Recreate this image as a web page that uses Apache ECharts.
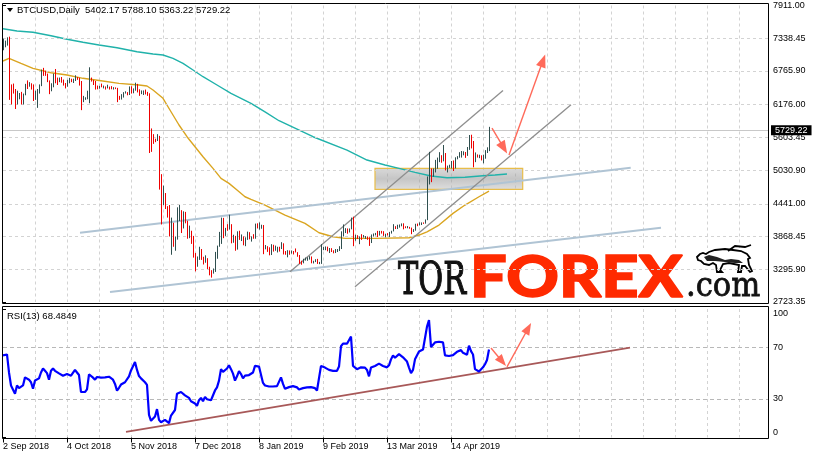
<!DOCTYPE html>
<html><head><meta charset="utf-8">
<script src="https://cdn.jsdelivr.net/npm/echarts@6/dist/echarts.min.js"></script>
<style>html,body{margin:0;padding:0;background:#fff}#c{width:814px;height:460px}</style>
</head><body><div id="c"></div><script>
// ---- daily bars [open, high, low, close], one array per month ----
const sep2018 = [
[7140,7330,7128,7270],[7200,7296,7180,7280],[7280,7354,7209,7340],[7340,7366,6260,6480],[6480,6530,6180,6460],
[6460,6545,6370,6400],[6400,6450,6100,6200],[6200,6420,6180,6300],[6300,6380,6270,6330],[6330,6400,6180,6290],
[6290,6370,6180,6350],[6350,6540,6340,6520],[6520,6600,6450,6510],[6510,6570,6490,6545],[6545,6550,6440,6510],
[6510,6530,6240,6270],[6270,6420,6260,6370],[6370,6450,6120,6400],[6400,6530,6370,6510],[6510,6790,6500,6740],
[6740,6820,6680,6710],[6710,6770,6680,6700],[6700,6720,6570,6590],[6590,6600,6360,6430],[6430,6550,6410,6490],
[6490,6720,6480,6680],[6680,6800,6550,6640],[6640,6650,6520,6600],[6600,6650,6570,6625]];
const oct2018 = [
[6625,6660,6560,6590],[6590,6615,6510,6550],[6550,6555,6460,6500],[6500,6610,6490,6580],[6580,6645,6550,6620],
[6620,6630,6570,6585],[6585,6630,6555,6605],[6605,6690,6590,6655],[6655,6660,6610,6640],[6640,6645,6510,6580],
[6580,6590,6080,6250],[6250,6330,6220,6275],[6275,6305,6260,6285],[6285,6420,6270,6290],[6290,6830,6200,6600],
[6600,6650,6580,6595],[6595,6610,6520,6545],[6545,6590,6440,6475],[6475,6510,6445,6465],[6465,6505,6455,6490],
[6490,6545,6480,6480],[6480,6510,6460,6488],[6488,6495,6440,6472],[6472,6525,6460,6485],[6485,6492,6440,6460],
[6460,6500,6445,6452],[6452,6482,6440,6465],[6465,6478,6448,6455],[6455,6470,6220,6320],[6320,6330,6260,6305],
[6305,6360,6265,6320]];
const nov2018 = [
[6320,6395,6300,6378],[6378,6410,6370,6390],[6390,6395,6340,6360],[6360,6495,6345,6490],[6490,6498,6370,6380],
[6380,6460,6375,6425],[6425,6560,6420,6520],[6520,6540,6390,6410],[6410,6445,6330,6370],[6370,6425,6360,6400],
[6400,6425,6345,6410],[6410,6440,6355,6375],[6375,6400,6330,6355],[6355,6375,5330,5700],[5700,5760,5350,5650],
[5650,5660,5490,5575],[5575,5580,5520,5550],[5550,5660,5540,5625],[5625,5630,4690,4870],[4870,4960,4080,4450],
[4450,4760,4420,4600],[4600,4630,4350,4365],[4365,4400,4200,4345],[4345,4420,3870,3880],[3880,4200,3550,4010],
[4010,4110,3690,3780],[3780,3870,3620,3820],[3820,4380,3815,4260],[4260,4420,4140,4280],[4280,4330,3930,4015]];
const dec2018 = [
[4015,4310,4010,4215],[4215,4300,4100,4140],[4140,4145,3830,3890],[3890,4060,3840,3955],[3955,3970,3740,3750],
[3750,3880,3500,3520],[3520,3580,3260,3420],[3420,3520,3340,3475],[3475,3690,3460,3615],[3615,3650,3460,3500],
[3500,3515,3380,3425],[3425,3540,3410,3485],[3485,3490,3300,3315],[3315,3340,3190,3245],[3245,3280,3150,3235],
[3235,3310,3220,3255],[3255,3600,3250,3545],[3545,3710,3480,3695],[3695,3950,3690,3745],[3745,4200,3740,4135],
[4135,4195,3840,3895],[3895,4020,3880,4015],[4015,4085,3970,3995],[3995,4250,3990,4080],[4080,4085,3750,3815],
[3815,3900,3760,3855],[3855,3880,3620,3655],[3655,3960,3640,3925],[3925,3970,3810,3820],[3820,3905,3790,3865],
[3865,3870,3715,3740]];
const jan2019 = [
[3740,3855,3700,3845],[3845,3955,3810,3945],[3945,3945,3820,3835],[3835,3870,3780,3858],[3858,3910,3830,3845],
[3845,4095,3830,4075],[4075,4100,4010,4025],[4025,4115,3990,4030],[4030,4075,4005,4035],[4035,4070,3560,3680],
[3680,3720,3645,3688],[3688,3700,3600,3660],[3660,3680,3540,3550],[3550,3735,3545,3705],[3705,3725,3605,3630],
[3630,3710,3620,3655],[3655,3690,3590,3678],[3678,3690,3605,3655],[3655,3770,3650,3728],[3728,3750,3555,3600],
[3600,3615,3550,3575],[3575,3630,3505,3605],[3605,3625,3550,3585],[3585,3625,3570,3600],[3600,3615,3555,3598],
[3598,3660,3590,3583],[3583,3595,3515,3540],[3540,3545,3390,3440],[3440,3445,3375,3412],[3412,3480,3400,3462],
[3462,3500,3448,3464]];
const feb2019 = [
[3464,3505,3445,3488],[3488,3525,3465,3520],[3520,3520,3400,3412],[3412,3445,3398,3436],[3436,3472,3422,3462],
[3462,3478,3390,3400],[3400,3425,3385,3405],[3405,3735,3390,3665],[3665,3685,3630,3672],[3672,3695,3630,3690],
[3690,3692,3610,3628],[3628,3668,3580,3632],[3632,3665,3598,3617],[3617,3628,3575,3594],[3594,3650,3580,3600],
[3600,3650,3598,3631],[3631,3700,3615,3655],[3655,3960,3650,3915],[3915,4080,3870,3947],[3947,4015,3930,4000],
[4000,4010,3918,3954],[3954,4010,3940,4005],[4005,4200,3995,4142],[4142,4215,3700,3810],[3810,3900,3795,3882],
[3882,3892,3825,3855],[3855,3870,3735,3859],[3859,3910,3810,3854]];
const mar2019 = [
[3854,3895,3850,3859],[3859,3878,3828,3864],[3864,3870,3812,3847],[3847,3856,3705,3761],[3761,3905,3755,3896],
[3896,3922,3868,3903],[3903,3932,3888,3911],[3911,3968,3860,3901],[3901,3968,3886,3963],[3963,3968,3920,3951],
[3951,3962,3880,3905],[3905,3918,3855,3909],[3909,3928,3888,3906],[3906,3950,3860,3924],[3924,3970,3920,3961],
[3961,4085,3958,4048],[4048,4050,4000,4025],[4025,4075,4000,4032],[4032,4080,4025,4071],[4071,4098,4048,4087],
[4087,4100,3995,4029],[4029,4048,4015,4023],[4023,4052,4013,4035],[4035,4038,4005,4022],[4022,4025,3910,3963],
[3963,3998,3948,3985],[3985,4092,3970,4087],[4087,4096,4050,4069],[4069,4116,4063,4098],[4098,4116,4070,4106],
[4106,4115,4090,4105]];
const apr2019 = [
[4105,4168,4094,4158],[4158,4920,4155,4880],[4880,5350,4780,4973],[4973,5060,4820,4922],[4922,5060,4915,5036],
[5036,5210,4990,5059],[5059,5250,5055,5198],[5198,5345,5170,5289],[5289,5292,5160,5204],[5204,5470,5185,5324],
[5324,5330,5025,5064],[5064,5110,4990,5089],[5089,5125,5070,5096],[5096,5190,5060,5167],[5167,5200,5015,5067],
[5067,5255,5060,5235],[5235,5275,5220,5251],[5251,5345,5248,5298],[5298,5365,5250,5303],[5303,5360,5290,5337],
[5337,5348,5245,5314],[5314,5435,5280,5399],[5399,5645,5385,5572],[5572,5650,5410,5464],[5464,5540,5080,5210],
[5210,5340,5170,5279],[5279,5305,5250,5268],[5268,5300,5240,5285],[5285,5290,5200,5247],[5247,5300,5150,5290]];
const may2019 = [
[5290,5380,5230,5360],[5360,5430,5330,5402.17],[5402.17,5788.10,5363.22,5729.22]];

// ---- RSI(13) per bar ----
const rsi13 = [
63.9,63.9,64.6,50.6,40.5,39.2,34.1,40.5,38.4,39.2,
40.5,46.8,46.0,45.0,43.0,37.9,44.3,45.5,46.0,50.6,
53.7,51.9,50.1,45.0,51.9,53.7,51.9,50.6,49.9,48.6,
48.1,48.1,49.4,48.6,48.1,49.4,52.6,50.6,48.6,35.4,
35.4,35.4,37.4,49.2,48.6,46.6,45.0,47.1,47.6,46.6,
48.1,46.8,47.6,47.3,46.8,45.0,41.7,36.4,38.7,41.2,
42.5,43.0,43.5,47.6,52.2,52.2,58.8,52.6,47.8,46.0,
44.5,43.0,41.0,17.6,13.0,13.2,16.3,22.1,13.7,11.9,
11.2,13.7,12.5,11.2,17.1,16.6,21.4,34.1,32.8,35.4,
34.9,32.8,31.6,30.8,28.2,27.7,26.5,24.7,29.0,30.8,
28.2,31.6,29.8,28.5,29.0,29.8,36.6,39.0,44.3,53.2,
51.1,51.9,53.7,56.2,53.2,49.7,44.3,47.6,51.6,49.4,
46.0,48.1,49.4,48.6,49.4,50.6,55.7,55.2,55.2,55.2,
42.5,40.5,39.2,39.7,39.2,39.7,40.5,40.0,41.0,46.8,
41.7,37.9,38.2,39.2,40.0,40.0,40.5,39.0,37.4,36.6,
38.4,39.2,39.0,38.4,39.2,39.0,38.4,36.6,36.6,55.7,
56.2,54.4,53.2,52.6,52.4,51.9,52.6,51.9,55.2,71.0,
73.0,72.3,73.0,73.5,78.6,55.7,54.4,53.2,52.6,54.6,
53.7,54.4,52.6,47.6,54.4,55.5,55.7,57.0,57.5,58.0,
55.7,54.4,54.6,56.2,60.8,63.9,62.1,63.4,64.9,64.4,
62.4,61.3,59.1,54.4,50.1,52.6,60.8,62.1,66.9,68.2,
68.5,68.5,86.3,91.4,70.5,71.5,74.0,73.5,74.5,74.0,
74.0,63.9,63.9,63.4,63.9,64.1,63.9,66.7,68.0,68.0,
65.9,67.2,64.4,71.5,67.2,64.6,53.2,52.4,51.4,52.2,
54.6,57.0,60.3,68.4849];

// ---- moving averages, read at sampled bar positions [barIndex, price] ----
const maSlow = [[0,7505],[7,7465],[15,7442],[24,7382],[32,7320],[40,7267],[48,7220],[57,7172],[67,7102],[75,7062],
[80,7045],[85,6987],[90,6899],[95,6782],[100,6665],[107,6520],[114,6374],[119,6287],[124,6199],[131,6050],[138,5895],
[155,5615],[172,5382],[182,5207],[191,5120],[198,5062],[206,4992],[214,4927],[222,4897],[231,4906],[240,4932],[246,4945],[252,4962]];
const maFast = [[0,6940],[3,6987],[9,6899],[15,6812],[24,6735],[32,6695],[40,6637],[49,6595],[58,6549],[68,6520],
[72,6502],[75,6432],[80,6287],[84,6052],[88,5820],[92,5615],[96,5440],[100,5265],[105,5062],[109,4887],[113,4799],
[117,4682],[121,4565],[124,4519],[131,4420],[141,4245],[151,4099],[158,3935],[165,3865],[171,3837],[186,3837],
[203,3847],[208,3895],[212,3952],[218,4070],[225,4274],[231,4420],[238,4565],[243,4665]];

// ---- axis labels ----
const dateLabels = ['2 Sep 2018','4 Oct 2018','5 Nov 2018','7 Dec 2018','8 Jan 2019','9 Feb 2019','13 Mar 2019','14 Apr 2019'];
const dateTickIdx = [0,32,64,96,128,160,192,224];
const priceTicks = [7911.00,7338.45,6765.90,6176.00,5603.45,5030.90,4441.00,3868.45,3295.90,2723.35];
const rsiTicks = [100,70,30,0];

// ---- drawn annotations, in data units [barIndex, value] ----
const priceTrendBlue = [[[38.5,3935],[313.85,5072]],[[53.5,2897],[329,4022]]];
const priceChannel = [[[143.5,3252],[250,6425]],[[176,2990],[284,6175]]];
const zoneBox = [[186,5062],[259.85,4694]];
const priceArrows = [[[244.5,5767],[250.4,5419]],[[253,5295],[270,6947]]];
const rsiTrend = [[61.5,4.3],[313.5,69.9]];
const rsiArrows = [[[244,69.6],[249.6,59.2]],[[252,54.9],[262.6,85.0]]];

// ---------------------------------------------------------------
const months = [sep2018,oct2018,nov2018,dec2018,jan2019,feb2019,mar2019,apr2019,may2019];
const bars = [].concat(...months).map((r,i)=>[i,r[0],r[1],r[2],r[3]]);
const last = bars[bars.length-1];
const rsiData = rsi13.map((v,i)=>[i,v]);
const FONT = '"Liberation Sans", Arial, sans-serif';
const UP = '#2f4f4f', DOWN = '#ee0000';
const GRIDC = '#d3d3d3';
const XMAX = 382.5;

const chart = echarts.init(document.getElementById('c'));

const option = {
  animation:false,
  backgroundColor:'#ffffff',
  grid:[
    {left:3,width:765,top:5.5,height:296.5},
    {left:3,width:765,top:309,height:128.5}
  ],
  xAxis:[
    {gridIndex:0,type:'value',min:0,max:XMAX,interval:16,axisLine:{show:false},axisTick:{show:false},axisLabel:{show:false},
     splitLine:{show:true,showMinLine:false,showMaxLine:false,lineStyle:{color:GRIDC,type:[3,3],width:1}}},
    {gridIndex:1,type:'value',position:'top',min:0,max:XMAX,interval:16,axisLine:{show:false},axisTick:{show:false},axisLabel:{show:false},
     splitLine:{show:true,showMinLine:false,showMaxLine:false,lineStyle:{color:GRIDC,type:[3,3],width:1}}},
    {gridIndex:1,type:'value',position:'bottom',min:0,max:XMAX,axisLine:{show:false},
     axisTick:{show:true,customValues:dateTickIdx,length:5,lineStyle:{color:'#000'}},
     axisLabel:{customValues:dateTickIdx,formatter:v=>{const k=dateTickIdx.indexOf(v);return k>=0?dateLabels[k]:'';},
       align:'left',margin:5,fontSize:9,fontFamily:FONT,color:'#000'},
     splitLine:{show:false}}
  ],
  yAxis:[
    {gridIndex:0,type:'value',position:'right',min:2723.35,max:7911,axisLine:{show:false},
     axisTick:{show:true,customValues:priceTicks,length:3,lineStyle:{color:'#000'}},
     axisLabel:{customValues:priceTicks,formatter:v=>v.toFixed(2),margin:5,fontSize:9,fontFamily:FONT,color:'#000'},
     splitLine:{show:false}},
    {gridIndex:1,type:'value',position:'right',min:0,max:100,axisLine:{show:false},
     axisTick:{show:true,customValues:rsiTicks,length:3,lineStyle:{color:'#000'}},
     axisLabel:{customValues:rsiTicks,margin:5,fontSize:9,fontFamily:FONT,color:'#000',
       formatter:v=>v===100?'{a|100}':(v===0?'{b|0}':String(v)),
       rich:{a:{padding:[10,0,0,0],fontSize:9,fontFamily:FONT,color:'#000'},b:{padding:[0,0,9,0],fontSize:9,fontFamily:FONT,color:'#000'}}},
     splitLine:{show:false}}
  ],
  series:[
    {type:'line',xAxisIndex:0,yAxisIndex:0,data:[],z:1,silent:true,
     markLine:{silent:true,symbol:'none',label:{show:false},emphasis:{disabled:true},
       lineStyle:{color:GRIDC,type:[3,3],width:1},
       data:priceTicks.slice(1,-1).map(v=>({yAxis:v}))}},
    {type:'line',xAxisIndex:1,yAxisIndex:1,data:[],z:1,silent:true,
     markLine:{silent:true,symbol:'none',label:{show:false},emphasis:{disabled:true},
       lineStyle:{color:'#b8b8b8',type:[4,3],width:1},
       data:rsiTicks.filter(v=>v>0&&v<100).map(v=>({yAxis:v}))}},
    {type:'line',xAxisIndex:0,yAxisIndex:0,data:[],z:3,silent:true,
     markLine:{silent:true,symbol:'none',emphasis:{disabled:true},
       lineStyle:{color:'#c8c8c8',type:'solid',width:1},
       label:{show:true,position:'end',distance:3,formatter:last[4].toFixed(2),backgroundColor:'#000',color:'#fff',
         fontSize:9,fontFamily:FONT,padding:[1,4,0,4]},
       data:[{yAxis:last[4]}]}},
    {type:'line',xAxisIndex:0,yAxisIndex:0,data:maSlow,showSymbol:false,silent:true,z:4,
     lineStyle:{color:'#20b2aa',width:1.4}},
    {type:'line',xAxisIndex:0,yAxisIndex:0,data:maFast,showSymbol:false,silent:true,z:4,
     lineStyle:{color:'#daa520',width:1.4}},
    {type:'line',xAxisIndex:0,yAxisIndex:0,data:[],z:5,silent:true,
     markArea:{silent:true,emphasis:{disabled:true},
       itemStyle:{color:{type:'linear',x:0,y:0,x2:0,y2:1,colorStops:[
         {offset:0,color:'rgba(180,180,180,0.5)'},{offset:0.5,color:'rgba(150,150,150,0.55)'},{offset:1,color:'rgba(190,190,190,0.5)'}]},
         borderColor:'#e8bd4a',borderWidth:1.2},
       data:[[{xAxis:zoneBox[0][0],yAxis:zoneBox[0][1]},{xAxis:zoneBox[1][0],yAxis:zoneBox[1][1]}]]}},
    {type:'custom',xAxisIndex:0,yAxisIndex:0,data:bars,z:6,silent:true,
     encode:{x:0,y:[1,2,3,4]},
     renderItem:(params,api)=>{
       const i=api.value(0),o=api.value(1),h=api.value(2),l=api.value(3),c=api.value(4);
       const t=api.coord([i,h]),b=api.coord([i,l]);
       const x=Math.round(t[0])+0.5;
       let y1=t[1],y2=b[1]; if(y2-y1<1){y2=y1+1;}
       return {type:'line',shape:{x1:x,y1:y1,x2:x,y2:y2},style:{stroke:c>=o?UP:DOWN,lineWidth:1}};
     }},
    {type:'line',xAxisIndex:0,yAxisIndex:0,data:[],z:7,silent:true,
     markLine:{silent:true,symbol:'none',label:{show:false},emphasis:{disabled:true},
       data:[
         ...priceTrendBlue.map(s=>[{coord:s[0],lineStyle:{color:'#b0c4d4',width:2,type:'solid'}},{coord:s[1]}]),
         ...priceChannel.map(s=>[{coord:s[0],lineStyle:{color:'#8e8e8e',width:1.3,type:'solid'}},{coord:s[1]}])
       ]}},
    {type:'line',xAxisIndex:0,yAxisIndex:0,data:[],z:8,silent:true,
     markLine:{silent:true,symbol:['none','triangle'],symbolSize:[10,13],label:{show:false},emphasis:{disabled:true},
       lineStyle:{color:'#ff6a5a',width:1.4,type:'solid'},
       itemStyle:{color:'#ff6a5a'},
       data:priceArrows.map(s=>[{coord:s[0]},{coord:s[1]}])}},
    {type:'line',xAxisIndex:1,yAxisIndex:1,data:rsiData,showSymbol:false,silent:true,z:6,
     lineStyle:{color:'#0000ff',width:2.2}},
    {type:'line',xAxisIndex:1,yAxisIndex:1,data:[],z:7,silent:true,
     markLine:{silent:true,symbol:'none',label:{show:false},emphasis:{disabled:true},
       lineStyle:{color:'#a85858',width:1.8,type:'solid'},
       data:[[{coord:rsiTrend[0]},{coord:rsiTrend[1]}]]}},
    {type:'line',xAxisIndex:1,yAxisIndex:1,data:[],z:8,silent:true,
     markLine:{silent:true,symbol:['none','triangle'],symbolSize:[9,12],label:{show:false},emphasis:{disabled:true},
       lineStyle:{color:'#ff6a5a',width:1.4,type:'solid'},
       itemStyle:{color:'#ff6a5a'},
       data:rsiArrows.map(s=>[{coord:s[0]},{coord:s[1]}])}}
  ],
  graphic:{elements:[
    {type:'rect',z:2,silent:true,shape:{x:395,y:248,width:370,height:54},style:{fill:'#ffffff'}},
    {type:'text',z:3,silent:true,x:398,y:283,scaleX:0.69,
     style:{text:'TOR',x:0,y:0,font:'44px "DejaVu Serif", serif',fill:'#111',stroke:'#111',lineWidth:1.2,verticalAlign:'middle',textVerticalAlign:'middle'}},
    {type:'text',z:3,silent:true,x:470,y:278,scaleX:1.12,
     style:{text:'FOREX',x:0,y:0,font:'900 58px Lato, "Noto Sans", sans-serif',fill:'#ff2a00',stroke:'#ff2a00',lineWidth:1.5,verticalAlign:'middle',textVerticalAlign:'middle'}},
    {type:'text',z:3,silent:true,x:686,y:287,scaleX:0.9,
     style:{text:'.com',x:0,y:0,font:'34px "DejaVu Serif", serif',fill:'#111',stroke:'#111',lineWidth:0.8,verticalAlign:'middle',textVerticalAlign:'middle'}},
    {type:'polygon',z:3,silent:true,x:695,y:245,
     shape:{points:[[2,12],[5,9],[8,8],[11,9],[14,7],[20,5],[30,4],[38,5],[46,6],[52,9],[55,13],[53,14],[54,20],[57,26],[55,27],[50,21],[47,21],[46,27],[43,27],[44,20],[34,18],[28,19],[25,25],[27,27],[22,27],[21,20],[18,18],[14,20],[9,19],[6,16],[3,15]]},
     style:{fill:'#ffffff',stroke:'#000',lineWidth:1.8}},
    {type:'polygon',z:3,silent:true,x:695,y:245,
     shape:{points:[[9,12],[14,10],[22,12],[30,15],[36,14],[44,15],[48,18],[40,18],[30,17],[20,16],[12,16]]},
     style:{fill:'#222'}},
    {type:'polyline',z:3,silent:true,x:695,y:245,
     shape:{points:[[33,6],[40,1],[50,2],[56,0]]},style:{fill:null,stroke:'#000',lineWidth:1.8}},
    {type:'rect',z:20,silent:true,shape:{x:2.5,y:3.5,width:766,height:300},style:{fill:null,stroke:'#000',lineWidth:1}},
    {type:'rect',z:20,silent:true,shape:{x:2.5,y:306.5,width:766,height:132},style:{fill:null,stroke:'#000',lineWidth:1}},
    {type:'polygon',z:20,silent:true,shape:{points:[[7,8],[13,8],[10,12]]},style:{fill:'#000'}},
    {type:'text',z:20,silent:true,x:17,y:10.5,
     style:{text:'BTCUSD,Daily  '+[last[1],last[2],last[3],last[4]].map(v=>v.toFixed(2)).join(' '),
       font:'9.5px '+FONT,fill:'#000',verticalAlign:'middle',textVerticalAlign:'middle'}},
    {type:'text',z:20,silent:true,x:7,y:316.5,
     style:{text:'RSI(13) '+rsi13[rsi13.length-1],font:'9.5px '+FONT,fill:'#000',verticalAlign:'middle',textVerticalAlign:'middle'}}
  ]}
};
chart.setOption(option);
</script></body></html>
